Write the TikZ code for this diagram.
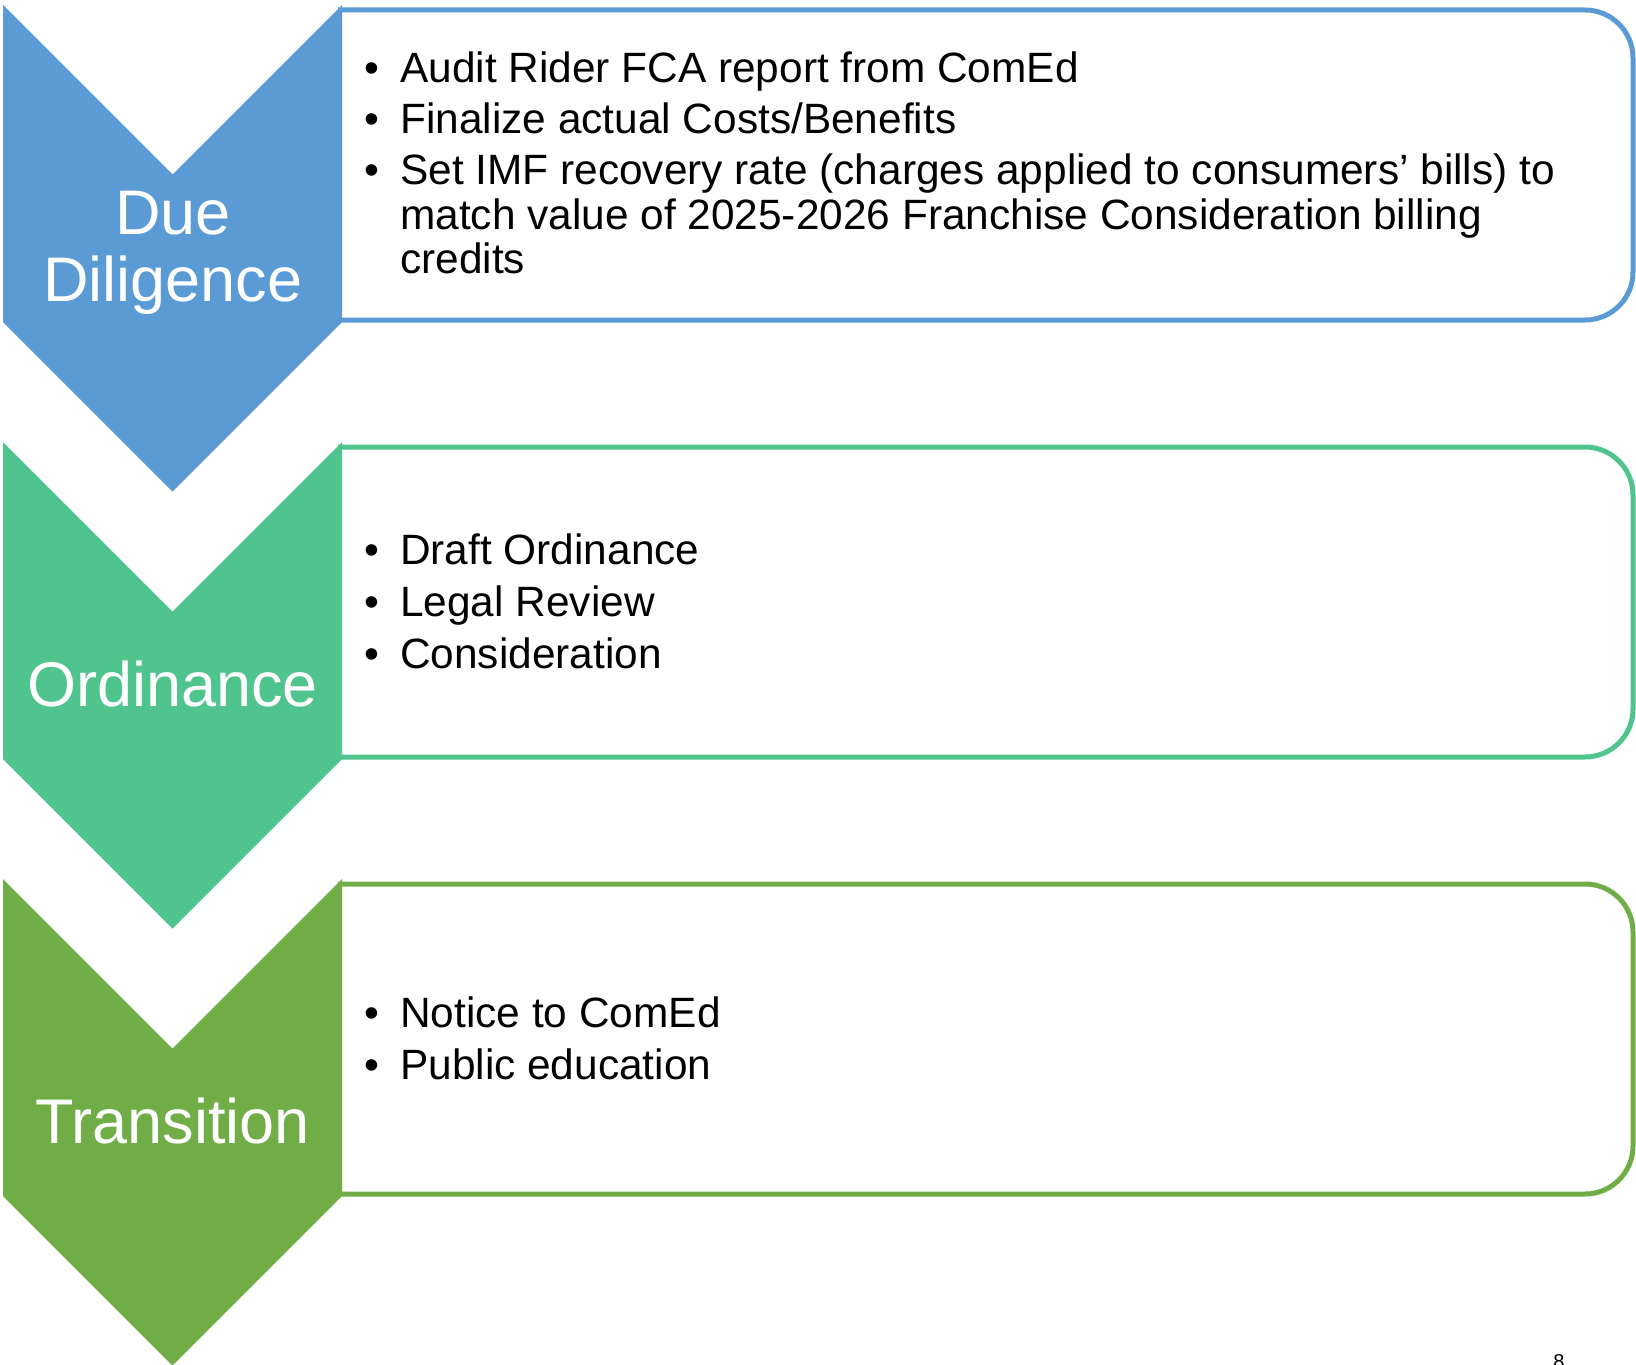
\documentclass[tikz,border=0pt]{standalone}
\usepackage{fontspec}
\setmainfont{Liberation Sans}
\definecolor{cblue}{RGB}{91,155,213}
\definecolor{cteal}{RGB}{80,196,141}
\definecolor{cgreen}{RGB}{112,173,71}
\tikzset{
  boxline/.style={line width=5bp, rounded corners=48bp},
  chevlabel/.style={text=white, inner sep=0pt, anchor=base, font=\fontsize{63bp}{67bp}\selectfont},
  bul/.style={inner sep=0pt, anchor=base, font=\fontsize{42.4bp}{45bp}\selectfont},
  itemtext/.style={inner sep=0pt, anchor=base west, font=\fontsize{42.4bp}{45bp}\selectfont},
}
\newcommand\mychevron[2]{%
  \fill[#2] (3,#1) -- (172.5,#1+169.5) -- (342,#1) -- (342,#1+317) -- (172.5,#1+486.5) -- (3,#1+317) -- cycle;}
\newcommand\mybox[2]{%
  \draw[boxline,#2] (338,#1+5) -- (1633,#1+5) -- (1633,#1+315) -- (338,#1+315);}
\begin{document}
\begin{tikzpicture}[x=1bp,y=-1bp]
\useasboundingbox (0,0) rectangle (1636,1365);
% boxes
\mybox{5}{cblue}
\mybox{442}{cteal}
\mybox{879}{cgreen}
% chevrons
\mychevron{5}{cblue}
\mychevron{442}{cteal}
\mychevron{879}{cgreen}
% chevron labels
\node[chevlabel] (due) at (173,235) {Due};
\node[chevlabel] (dil) at (173,302) {Diligence};
\node[chevlabel] (ord) at (172.5,706) {Ordinance};
\node[chevlabel] (tra) at (172.5,1143) {Transition};
% box 1 items
\node[bul] (b11) at (372,83) {\textbullet};
\node[itemtext] (t11) at (400,83) {Audit Rider FCA report from ComEd};
\node[bul] (b12) at (372,134) {\textbullet};
\node[itemtext] (t12) at (400,134) {Finalize actual Costs/Benefits};
\node[bul] (b13) at (372,185) {\textbullet};
\node[itemtext] (t13a) at (400,185) {Set IMF recovery rate (charges applied to consumers’ bills) to};
\node[itemtext] (t13b) at (400,230) {match value of 2025-2026 Franchise Consideration billing};
\node[itemtext] (t13c) at (400,274) {credits};
% box 2 items
\node[bul] (b21) at (372,564) {\textbullet};
\node[itemtext] (t21) at (400,564) {Draft Ordinance};
\node[bul] (b22) at (372,616) {\textbullet};
\node[itemtext] (t22) at (400,616) {Legal Review};
\node[bul] (b23) at (372,668) {\textbullet};
\node[itemtext] (t23) at (400,668) {Consideration};
% box 3 items
\node[bul] (b31) at (372,1027) {\textbullet};
\node[itemtext] (t31) at (400,1027) {Notice to ComEd};
\node[bul] (b32) at (372,1079) {\textbullet};
\node[itemtext] (t32) at (400,1079) {Public education};
% page number (cut off at the bottom edge, as in the reference)
\node[inner sep=0pt, anchor=base, font=\fontsize{20bp}{22bp}\selectfont] (pg) at (1559,1368) {8};
\end{tikzpicture}
\end{document}
